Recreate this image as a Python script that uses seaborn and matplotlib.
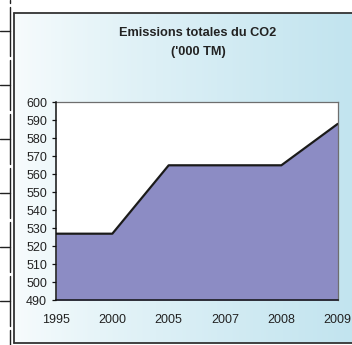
import numpy as np
import pandas as pd
import matplotlib
matplotlib.use("Agg")
import matplotlib.pyplot as plt
from matplotlib.lines import Line2D
import seaborn as sns

# ---- data ----
years = ["1995", "2000", "2005", "2007", "2008", "2009"]
emissions = [527, 527, 565, 565, 565, 588]
y_ticks = list(range(490, 601, 10))
title_line1 = "Emissions totales du CO2"
title_line2 = "('000 TM)"

sns.set_style("white")
plt.rcParams['font.family'] = ['Liberation Sans', 'DejaVu Sans']

W, H = 352, 345
fig = plt.figure(figsize=(W / 100, H / 100), dpi=100)
fig.patch.set_facecolor("white")

def fx(px):
    return px / W

def fy(py):
    return 1 - py / H

# gradient chart background
frame_l, frame_t, frame_b = 14, 12.7, 343
bg = fig.add_axes([fx(frame_l), fy(frame_b), 1 - fx(frame_l), fy(frame_t) - fy(frame_b)])
c0 = np.array([248, 252, 253]) / 255
c1 = np.array([194, 228, 239]) / 255
t = np.linspace(0, 1, 256) ** 0.8
grad = (c0[None, :] * (1 - t[:, None]) + c1[None, :] * t[:, None])[None, :, :]
bg.imshow(grad, aspect="auto", extent=[0, 1, 0, 1])
bg.set_axis_off()

# frame lines
lw_frame = 1.3
fig.add_artist(Line2D([fx(frame_l), fx(frame_l)], [fy(frame_b), fy(frame_t)], color="#333333", lw=lw_frame))
fig.add_artist(Line2D([fx(frame_l), 1], [fy(frame_t), fy(frame_t)], color="#333333", lw=lw_frame))
fig.add_artist(Line2D([fx(frame_l), 1], [fy(frame_b), fy(frame_b)], color="#333333", lw=lw_frame))

# document table lines on the left
gaps = [5, 58, 112, 166, 220, 274, 328]
edges = [0] + [g for gap in gaps for g in (gap - 2, gap + 2)] + [H]
for i in range(0, len(edges), 2):
    fig.add_artist(Line2D([fx(9.5), fx(9.5)], [fy(edges[i]), fy(edges[i + 1])], color="#222222", lw=1.0))
for yy in [31, 85, 139, 193, 247, 301]:
    fig.add_artist(Line2D([0, fx(9.5)], [fy(yy), fy(yy)], color="#222222", lw=1.0))

# main plot area
left, right, top, bottom = 56, 337.7, 102.3, 300.3
ax = fig.add_axes([fx(left), fy(bottom), fx(right) - fx(left), fy(top) - fy(bottom)])
ax.set_facecolor("white")

df = pd.DataFrame({"x": np.arange(len(years)), "year": years, "value": emissions})
ax.fill_between(df["x"], df["value"], 490, color="#8C8CC4", zorder=1, linewidth=0)
sns.lineplot(data=df, x="x", y="value", ax=ax, color="#1a1a1a", linewidth=1.6, zorder=2)

ax.set_xlim(0, len(years) - 1)
ax.set_ylim(490, 600)
ax.set_yticks(y_ticks)
ax.set_yticklabels([str(v) for v in y_ticks])
ax.set_xticks(df["x"])
ax.set_xticklabels(years)
ax.set_xlabel("")
ax.set_ylabel("")

ax.tick_params(axis="y", direction="out", length=3, width=0.9, color="#111111",
               pad=3.5, labelsize=9, labelcolor="#222222", left=True)
ax.tick_params(axis="x", length=0, pad=10, labelsize=9, labelcolor="#222222")

for s in ["left", "bottom"]:
    ax.spines[s].set_color("#111111")
    ax.spines[s].set_linewidth(1.1)
for s in ["top", "right"]:
    ax.spines[s].set_color("#6e6e6e")
    ax.spines[s].set_linewidth(0.9)
ax.spines["left"].set_zorder(5)
ax.spines["bottom"].set_zorder(5)

fig.text(fx(198), fy(33), title_line1, ha="center", va="center",
         fontsize=9.2, fontweight="bold", color="#222222")
fig.text(fx(198), fy(52), title_line2, ha="center", va="center",
         fontsize=9.2, fontweight="bold", color="#222222")

fig.savefig("out.png", dpi=100)
